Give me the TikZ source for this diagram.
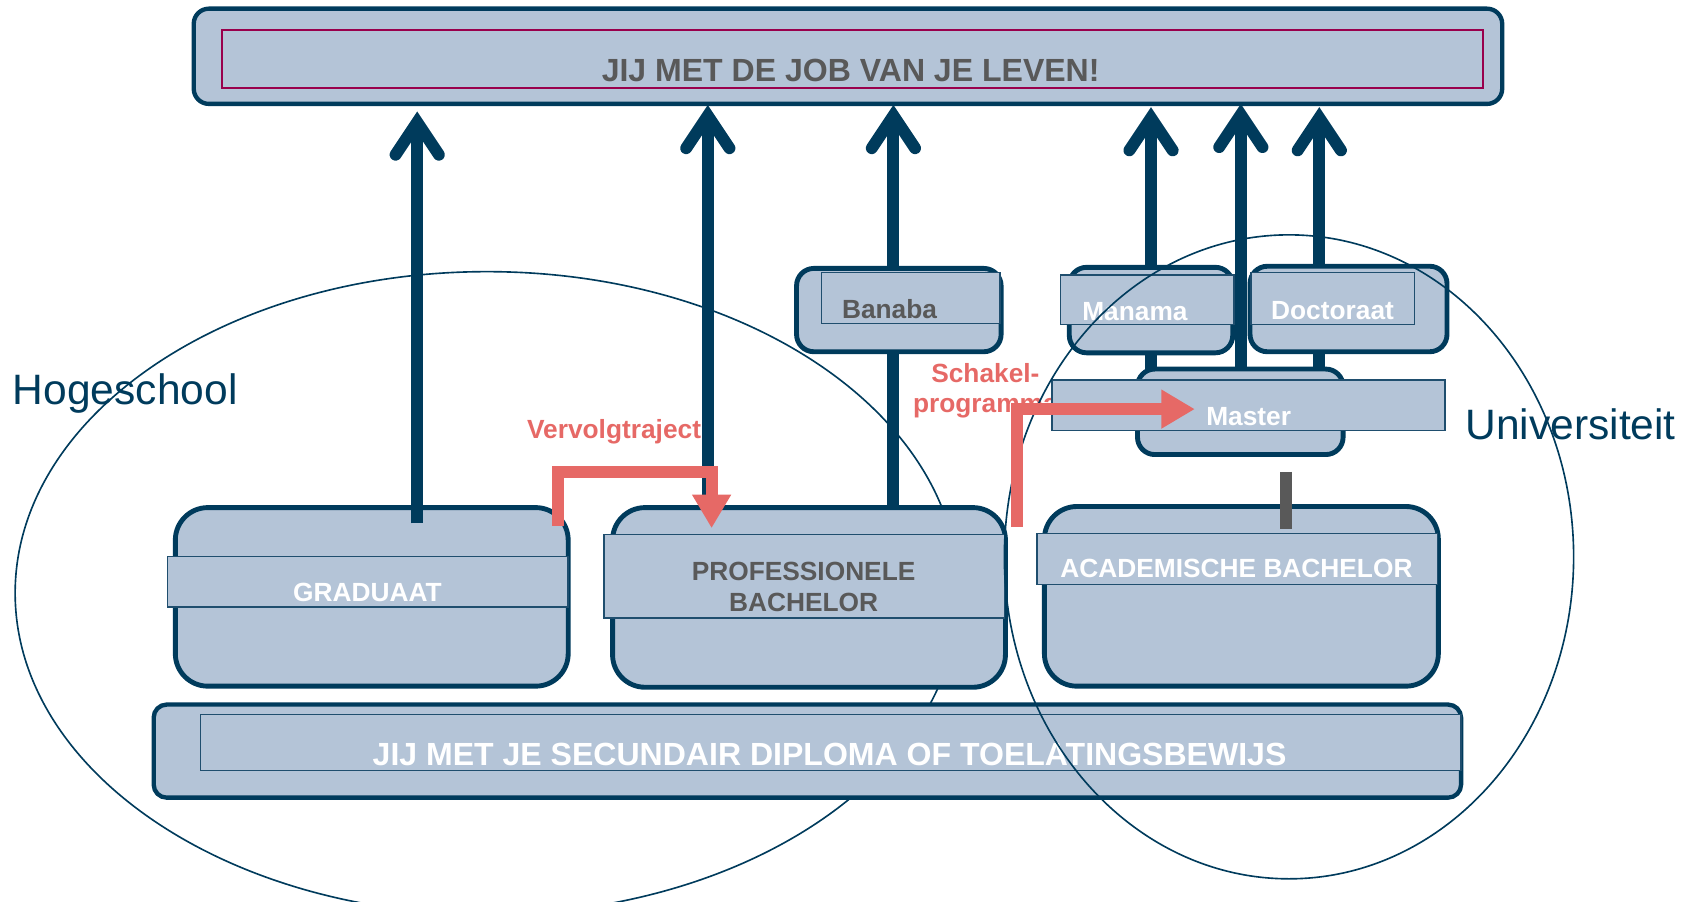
\documentclass[tikz,border=0pt]{standalone}
\usepackage{fontspec}
\setmainfont{Liberation Sans}
\usetikzlibrary{arrows.meta}
\definecolor{fillb}{RGB}{180,196,215}
\definecolor{darkb}{RGB}{0,59,92}
\definecolor{txtgray}{RGB}{89,89,89}
\definecolor{redc}{RGB}{230,105,102}
\definecolor{maroonc}{RGB}{153,0,76}
\definecolor{bandline}{RGB}{31,78,110}
\begin{document}
\begin{tikzpicture}[x=1pt,y=-1pt,
  box/.style={draw=darkb, fill=fillb, line width=4.5pt, inner sep=0pt, outer sep=0pt},
  band/.style={draw=bandline, fill=fillb, line width=1.3pt, inner sep=0pt, outer sep=0pt},
  lbl/.style={font=\fontsize{24.3}{28}\selectfont\bfseries, inner sep=0pt, outer sep=0pt},
  big/.style={font=\fontsize{29.6}{34}\selectfont\bfseries, inner sep=0pt, outer sep=0pt},
  side/.style={font=\fontsize{39.3}{44}\selectfont, text=darkb, inner sep=0pt, outer sep=0pt},
  stem/.style={draw=darkb, line width=11pt, -{Straight Barb[length=30pt,width=40pt,line cap=round,line join=miter]}},
  redarrow/.style={draw=redc, line width=11pt, -{Triangle[length=31pt,width=34pt]}},
  region/.style={draw=darkb, line width=1.5pt},
]
\useasboundingbox (0,0) rectangle (1568,833);

% Hogeschool region
\node[side, anchor=base west] (hog) at (12,374) {Hogeschool};
\draw[region] (450,548) ellipse [x radius=436pt, y radius=297pt];

% top box
\node[box, line width=4pt, rounded corners=14pt, minimum width=1209pt, minimum height=88pt] (job) at (783.5,52) {};
\node[draw=maroonc, fill=fillb, line width=1.8pt, inner sep=0pt, minimum width=1165pt, minimum height=53pt] (jobband) at (787.5,54.5) {};
\node[big, text=txtgray, anchor=base] (jobtxt) at (786,75.5) {JIJ MET DE JOB VAN JE LEVEN!};

% bottom box
\node[box, line width=4pt, rounded corners=12pt, minimum width=1208pt, minimum height=86pt] (sec) at (746,694) {};
\node[band, minimum width=1165pt, minimum height=52pt] (secband) at (767.5,686) {};
\node[big, text=white, anchor=base] (sectxt) at (766.5,707) {JIJ MET JE SECUNDAIR DIPLOMA OF TOELATINGSBEWIJS};

% graduaat
\node[box, rounded corners=30pt, minimum width=363pt, minimum height=165pt] (grad) at (343.5,551.5) {};
\node[band, minimum width=370pt, minimum height=47pt] (gradband) at (340,537.5) {};
\node[lbl, text=white, anchor=base] (gradtxt) at (339.5,556) {GRADUAAT};

% professionele bachelor
\node[box, rounded corners=30pt, minimum width=363pt, minimum height=166pt] (pro) at (747.5,552) {};
\node[band, minimum width=370pt, minimum height=77pt] (proband) at (743,532.5) {};
\node[lbl, text=txtgray, anchor=base] (protxtA) at (742.5,536) {PROFESSIONELE};
\node[lbl, text=txtgray, anchor=base] (protxtB) at (742.5,565) {BACHELOR};

% academische bachelor
\node[box, rounded corners=30pt, minimum width=364pt, minimum height=166pt] (acad) at (1147,551) {};
\node[band, minimum width=370pt, minimum height=47pt] (acadband) at (1143,516.5) {};
\node[lbl, text=white, anchor=base] (acadtxt) at (1142.5,534) {ACADEMISCHE BACHELOR};

% stems
\coordinate (s1a) at (385.5,483.5); \coordinate (s1b) at (385.5,103);
\coordinate (s2a) at (654,470);     \coordinate (s2b) at (654,97);
\coordinate (s3a) at (825.5,470);   \coordinate (s3b) at (825.5,97);
\coordinate (s4a) at (1063.5,345);  \coordinate (s4b) at (1063.5,99);
\coordinate (s5a) at (1146.5,345);  \coordinate (s5b) at (1146.5,96);
\coordinate (s6a) at (1219,345);    \coordinate (s6b) at (1219,99);
\draw[stem] (s1a) -- (s1b);
\draw[stem] (s2a) -- (s2b);
\draw[stem] (s3a) -- (s3b);
\draw[stem] (s4a) -- (s4b);
\draw[stem] (s5a) -- (s5b);
\draw[stem] (s6a) -- (s6b);

% schakelprogramma label (partly hidden by master band)
\node[lbl, text=redc, anchor=base] (schA) at (910.5,353) {Schakel-};
\node[lbl, text=redc, anchor=base west] (schB) at (843.6,381) {programma};

% banaba
\node[box, rounded corners=16pt, minimum width=189pt, minimum height=77pt] (ban) at (830.5,286.5) {};
\node[band, minimum width=165pt, minimum height=47pt] (banband) at (841.5,275.5) {};
\node[lbl, text=txtgray, anchor=base west] (bantxt) at (778,294) {Banaba};

% manama
\node[box, rounded corners=16pt, minimum width=151pt, minimum height=79pt] (man) at (1063.5,286.5) {};
\node[band, minimum width=160pt, minimum height=46pt] (manband) at (1060,277) {};
\node[lbl, text=white, anchor=base west] (mantxt) at (1000,296) {Manama};

% doctoraat
\node[box, rounded corners=16pt, minimum width=182pt, minimum height=79pt] (doc) at (1246,285.5) {};
\node[band, minimum width=151pt, minimum height=48pt] (docband) at (1231.5,276) {};
\node[lbl, text=white, anchor=base west] (doctxt) at (1174.5,295) {Doctoraat};

% master
\node[box, rounded corners=16pt, minimum width=190pt, minimum height=79pt] (mas) at (1146,380.5) {};
\node[band, minimum width=363pt, minimum height=47pt] (masband) at (1153.5,374.5) {};
\node[lbl, text=white, anchor=base west] (mastxt) at (1114.6,393) {Master};

% master to academische bachelor link
\coordinate (gl1) at (1188.5,436); \coordinate (gl2) at (1188.5,489);
\draw[draw=txtgray, line width=11pt] (gl1) -- (gl2);

% Universiteit region
\draw[region] (1191,514.5) ellipse [x radius=263pt, y radius=297.5pt];
\node[side, anchor=base west] (uni) at (1354,406.5) {Universiteit};

% red arrows
\node[lbl, text=redc, anchor=base west] (verv) at (487,405) {Vervolgtraject};
\coordinate (v1) at (515.5,486); \coordinate (v2) at (657.5,488);
\draw[redarrow] (v1) -- ++(0,-50) -| (v2);
\coordinate (r1) at (939.5,487); \coordinate (r2) at (1104,378);
\draw[redarrow] (r1) |- (r2);
\end{tikzpicture}
\end{document}
